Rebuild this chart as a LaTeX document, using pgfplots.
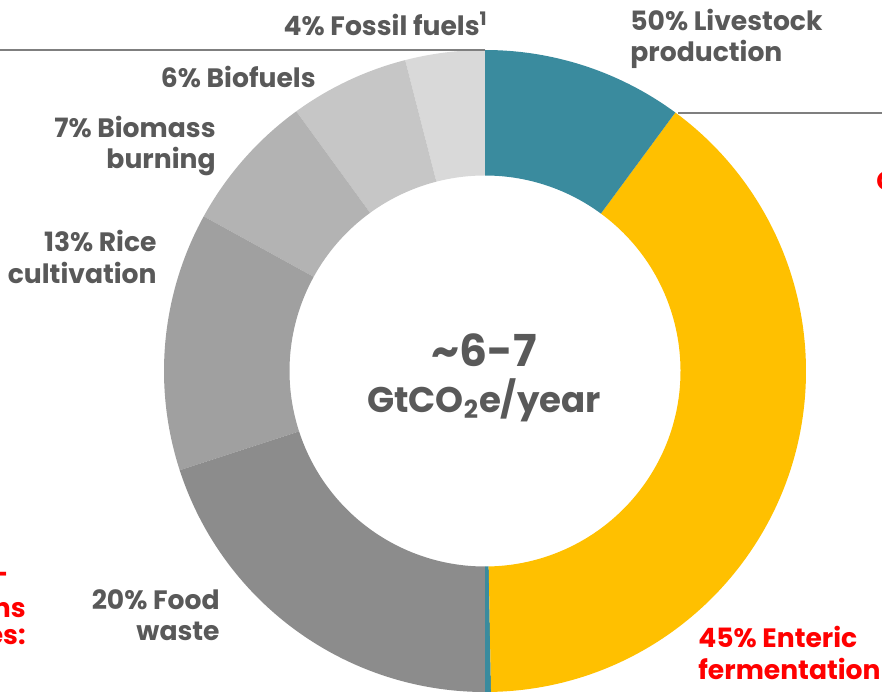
\documentclass[border=0pt]{standalone}
\usepackage{pgfplots}
\pgfplotsset{compat=1.18}
\usepackage{pgfplotstable}
\usepackage{fontspec}
\setmainfont{Poppins}
\definecolor{tealc}{HTML}{3A8B9E}
\definecolor{enteric}{HTML}{FFC000}
\definecolor{food}{HTML}{8C8C8C}
\definecolor{rice}{HTML}{A0A0A0}
\definecolor{biomass}{HTML}{B3B3B3}
\definecolor{biofuel}{HTML}{C6C6C6}
\definecolor{fossil}{HTML}{D9D9D9}
\definecolor{txt}{HTML}{595959}
\definecolor{rule}{HTML}{7F7F7F}
\definecolor{redt}{HTML}{FF0000}

% share of the ring (percent), counter-clockwise from 12 o'clock
\pgfplotstableread{
name value color
Fossil 4 fossil
Biofuels 6 biofuel
Biomass 7 biomass
Rice 13 rice
Food 20 food
Sliver 0.3 tealc
Enteric 39.6 enteric
Livestock 10.1 tealc
}\donutdata

\newcommand\cx{485}
\newcommand\cy{320}
\newcommand\Ro{321}
\newcommand\Ri{195.5}

\begin{document}
\begin{tikzpicture}
\begin{axis}[name=ax, at={(0,0)}, anchor=south west,
  x=0.5pt, y=0.5pt, xmin=0, xmax=882, ymin=0, ymax=691,
  hide axis, clip=false]
\pgfmathsetmacro\cum{90}
\pgfplotsforeachungrouped \i in {0,...,7}{%
  \pgfplotstablegetelem{\i}{value}\of\donutdata \let\v=\pgfplotsretval
  \pgfplotstablegetelem{\i}{color}\of\donutdata \let\c=\pgfplotsretval
  \pgfmathsetmacro\aA{\cum}%
  \pgfmathsetmacro\aB{\cum+3.6*\v}%
  \edef\temp{\noexpand\fill[\c] (axis cs:{\cx+\Ro*cos(\aA)},{\cy+\Ro*sin(\aA)}) arc[start angle=\aA, end angle=\aB, radius=160.5pt] -- (axis cs:{\cx+\Ri*cos(\aB)},{\cy+\Ri*sin(\aB)}) arc[start angle=\aB, end angle=\aA, radius=97.75pt] -- cycle;}%
  \temp
  \global\let\cum=\aB
}

\draw[rule, line width=1pt] (axis cs:0,641) -- (axis cs:485,641);
\draw[rule, line width=1pt] (axis cs:678,578) -- (axis cs:882,578);

\begin{scope}[every node/.style={inner sep=0pt, font=\fontsize{13.3}{15.8}\selectfont\bfseries}]
\node[txt, anchor=east] at (axis cs:488,667) {4\% Fossil fuels\textsuperscript{1}};
\node[txt, anchor=east] at (axis cs:316,614) {6\% Biofuels};
\node[txt, anchor=east, align=right] at (axis cs:216,545) {7\% Biomass\\burning};
\node[txt, anchor=east, align=right] at (axis cs:157,434) {13\% Rice\\cultivation};
\node[txt, anchor=east, align=right] at (axis cs:220,76) {20\% Food\\waste};
\node[redt, anchor=west, align=left] at (axis cs:698,38) {45\% Enteric\\fermentation};
\node[txt, anchor=west, align=left] at (axis cs:630,652) {50\% Livestock\\production};
\node[redt, anchor=east] at (axis cs:9,114) {Agri-};
\node[redt, anchor=east] at (axis cs:26,84) {emissions};
\node[redt, anchor=east] at (axis cs:26,54) {sources:};
\node[redt, anchor=west] at (axis cs:876,508) {CH\textsubscript{4}};
\node[txt, font=\fontsize{22}{26}\selectfont\bfseries] at (axis cs:484,341) {\textasciitilde 6-7};
\node[txt, font=\fontsize{17.8}{20}\selectfont\bfseries] at (axis cs:484,291) {GtCO\textsubscript{2}e/year};
\end{scope}
\end{axis}
\pgfresetboundingbox
\path[use as bounding box] (ax.south west) rectangle (ax.north east);
\end{tikzpicture}
\end{document}
